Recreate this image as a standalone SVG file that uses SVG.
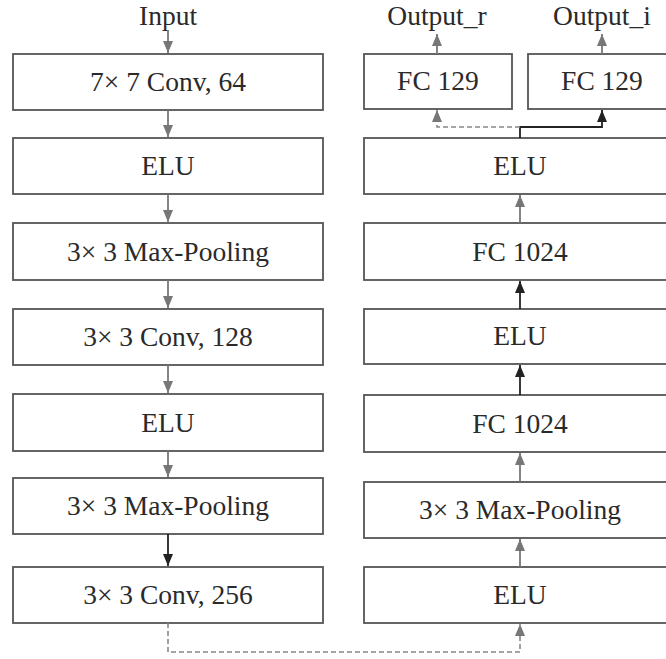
<svg xmlns="http://www.w3.org/2000/svg" width="666" height="659" viewBox="0 0 666 659">
<style>
.box{fill:#fff;stroke:#555;stroke-width:1.8}
.t{font-family:"Liberation Serif","Times New Roman",serif;font-size:27.5px;fill:#2a2a2a;text-anchor:middle}
.g{stroke:#777;stroke-width:1.8;fill:none}
.k{stroke:#222;stroke-width:1.8;fill:none}
.d{stroke:#888;stroke-width:1.6;fill:none;stroke-dasharray:5,3}
</style>
<defs>
<marker id="ag" viewBox="0 0 12 10" refX="12" refY="5" markerWidth="12" markerHeight="10" markerUnits="userSpaceOnUse" orient="auto"><path d="M0,0 L12,5 L0,10 z" fill="#777"/></marker>
<marker id="ak" viewBox="0 0 12 10" refX="12" refY="5" markerWidth="12" markerHeight="10" markerUnits="userSpaceOnUse" orient="auto"><path d="M0,0 L12,5 L0,10 z" fill="#222"/></marker>
</defs>
<rect width="666" height="659" fill="#fff"/>
<g id="input"><text class="t" x="168" y="25">Input</text></g>
<g id="conv7"><rect class="box" x="13" y="54" width="310" height="56"/><text class="t" x="168" y="91">7× 7 Conv, 64</text></g>
<g id="elu1"><rect class="box" x="13" y="138" width="310" height="56"/><text class="t" x="168" y="175">ELU</text></g>
<g id="pool1"><rect class="box" x="13" y="223" width="310" height="57"/><text class="t" x="168" y="261">3× 3 Max-Pooling</text></g>
<g id="conv128"><rect class="box" x="13" y="309" width="310" height="56"/><text class="t" x="168" y="346">3× 3 Conv, 128</text></g>
<g id="elu2"><rect class="box" x="13" y="394" width="310" height="57"/><text class="t" x="168" y="432">ELU</text></g>
<g id="pool2"><rect class="box" x="13" y="478" width="310" height="56"/><text class="t" x="168" y="515">3× 3 Max-Pooling</text></g>
<g id="conv256"><rect class="box" x="13" y="567" width="310" height="56"/><text class="t" x="168" y="604">3× 3 Conv, 256</text></g>
<g id="out_r"><text class="t" x="437" y="25">Output_r</text></g>
<g id="out_i"><text class="t" x="602" y="25">Output_i</text></g>
<g id="fc129r"><rect class="box" x="364" y="54" width="148" height="55"/><text class="t" x="438" y="90">FC 129</text></g>
<g id="fc129i"><rect class="box" x="528" y="54" width="148" height="55"/><text class="t" x="602" y="90">FC 129</text></g>
<g id="elu5"><rect class="box" x="364" y="138" width="312" height="56"/><text class="t" x="520" y="175">ELU</text></g>
<g id="fc1024b"><rect class="box" x="364" y="223" width="312" height="57"/><text class="t" x="520" y="261">FC 1024</text></g>
<g id="elu4"><rect class="box" x="364" y="309" width="312" height="55"/><text class="t" x="520" y="345">ELU</text></g>
<g id="fc1024a"><rect class="box" x="364" y="395" width="312" height="57"/><text class="t" x="520" y="433">FC 1024</text></g>
<g id="pool3"><rect class="box" x="364" y="482" width="312" height="56"/><text class="t" x="520" y="519">3× 3 Max-Pooling</text></g>
<g id="elu3"><rect class="box" x="364" y="567" width="312" height="56"/><text class="t" x="520" y="604">ELU</text></g>
<g id="connectors">
<line class="g" x1="168" y1="30" x2="168" y2="53" marker-end="url(#ag)"/>
<line class="g" x1="168" y1="110" x2="168" y2="137" marker-end="url(#ag)"/>
<line class="g" x1="168" y1="194" x2="168" y2="222" marker-end="url(#ag)"/>
<line class="g" x1="168" y1="280" x2="168" y2="308" marker-end="url(#ag)"/>
<line class="g" x1="168" y1="365" x2="168" y2="393" marker-end="url(#ag)"/>
<line class="g" x1="168" y1="451" x2="168" y2="477" marker-end="url(#ag)"/>
<line class="k" x1="168" y1="534" x2="168" y2="566" marker-end="url(#ak)"/>
<path class="d" d="M168,623 V652 H520 V624" marker-end="url(#ag)"/>
<line class="g" x1="520" y1="567" x2="520" y2="539" marker-end="url(#ag)"/>
<line class="g" x1="520" y1="482" x2="520" y2="453" marker-end="url(#ag)"/>
<line class="k" x1="520" y1="395" x2="520" y2="365" marker-end="url(#ak)"/>
<line class="k" x1="520" y1="309" x2="520" y2="281" marker-end="url(#ak)"/>
<line class="g" x1="520" y1="223" x2="520" y2="195" marker-end="url(#ag)"/>
<path class="k" d="M520,138 V127 H602 V110" marker-end="url(#ak)"/>
<path class="d" d="M520,127 H437 V110" marker-end="url(#ag)"/>
<line class="g" x1="437" y1="54" x2="437" y2="34" marker-end="url(#ag)"/>
<line class="g" x1="602" y1="54" x2="602" y2="34" marker-end="url(#ag)"/>
</g>
</svg>
